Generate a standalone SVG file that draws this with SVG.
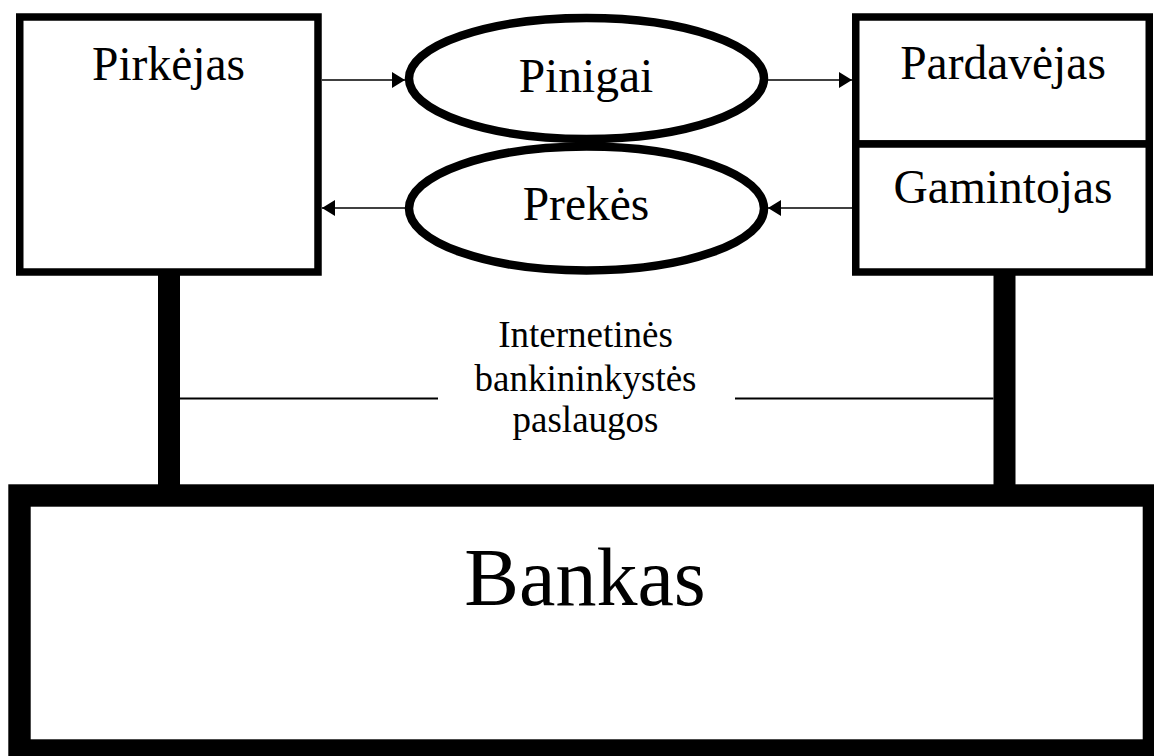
<svg xmlns="http://www.w3.org/2000/svg" width="1154" height="756" viewBox="0 0 1154 756">
  <style>
    .box { fill: #fff; stroke: #000; stroke-width: 7.5; }
    .ell { fill: #fff; stroke: #000; stroke-width: 8.5; }
    .lbl { font-family: "Liberation Serif", "Times New Roman", serif; fill: #000; text-anchor: middle; }
    .arrow { stroke: #000; stroke-width: 1.6; fill: none; marker-end: url(#ah); }
    .thin { stroke: #000; stroke-width: 2; fill: none; }
    .post { fill: #000; }
  </style>
  <defs>
    <marker id="ah" viewBox="0 0 13 16" refX="13" refY="8" markerWidth="13" markerHeight="16" markerUnits="userSpaceOnUse" orient="auto">
      <path d="M0,0 L13,8 L0,16 Z" fill="#000"/>
    </marker>
  </defs>
  <rect width="1154" height="756" fill="#fff"/>

  <g id="connectors">
    <rect class="post" x="158" y="272" width="22" height="224"/>
    <rect class="post" x="993.5" y="272" width="22" height="224"/>
    <line class="thin" x1="180" y1="398.5" x2="438" y2="398.5"/>
    <line class="thin" x1="735" y1="398.5" x2="993.5" y2="398.5"/>
    <line class="arrow" x1="322" y1="80" x2="405" y2="80"/>
    <line class="arrow" x1="768" y1="80" x2="852" y2="80"/>
    <line class="arrow" x1="852" y1="208" x2="768" y2="208"/>
    <line class="arrow" x1="405" y1="208" x2="322" y2="208"/>
  </g>

  <g id="pirkejas">
    <rect class="box" x="19.75" y="17" width="298.25" height="255"/>
    <text class="lbl" x="168.5" y="79.5" font-size="47.5">Pirkėjas</text>
  </g>

  <g id="pinigai">
    <ellipse class="ell" cx="586.5" cy="78.5" rx="177.5" ry="60.5"/>
    <text class="lbl" x="586" y="91.5" font-size="47.5">Pinigai</text>
  </g>

  <g id="prekes">
    <ellipse class="ell" cx="586.5" cy="208.5" rx="177.5" ry="62"/>
    <text class="lbl" x="586" y="220" font-size="47.5">Prekės</text>
  </g>

  <g id="pardavejas">
    <rect class="box" x="855.75" y="17" width="293.5" height="127"/>
    <text class="lbl" x="1003" y="79.3" font-size="47.5">Pardavėjas</text>
  </g>

  <g id="gamintojas">
    <rect class="box" x="855.75" y="144" width="293.5" height="128"/>
    <text class="lbl" x="1003" y="203.3" font-size="47.5">Gamintojas</text>
  </g>

  <g id="internetines">
    <text class="lbl" x="585.5" y="347" font-size="37">Internetinės</text>
    <text class="lbl" x="585.5" y="391" font-size="37">bankininkystės</text>
    <text class="lbl" x="585.5" y="431.5" font-size="37">paslaugos</text>
  </g>

  <g id="bankas">
    <rect x="19.5" y="495.5" width="1134.4" height="255" fill="#fff" stroke="#000" stroke-width="22.4"/>
    <text class="lbl" x="585" y="605" font-size="82">Bankas</text>
  </g>
</svg>
